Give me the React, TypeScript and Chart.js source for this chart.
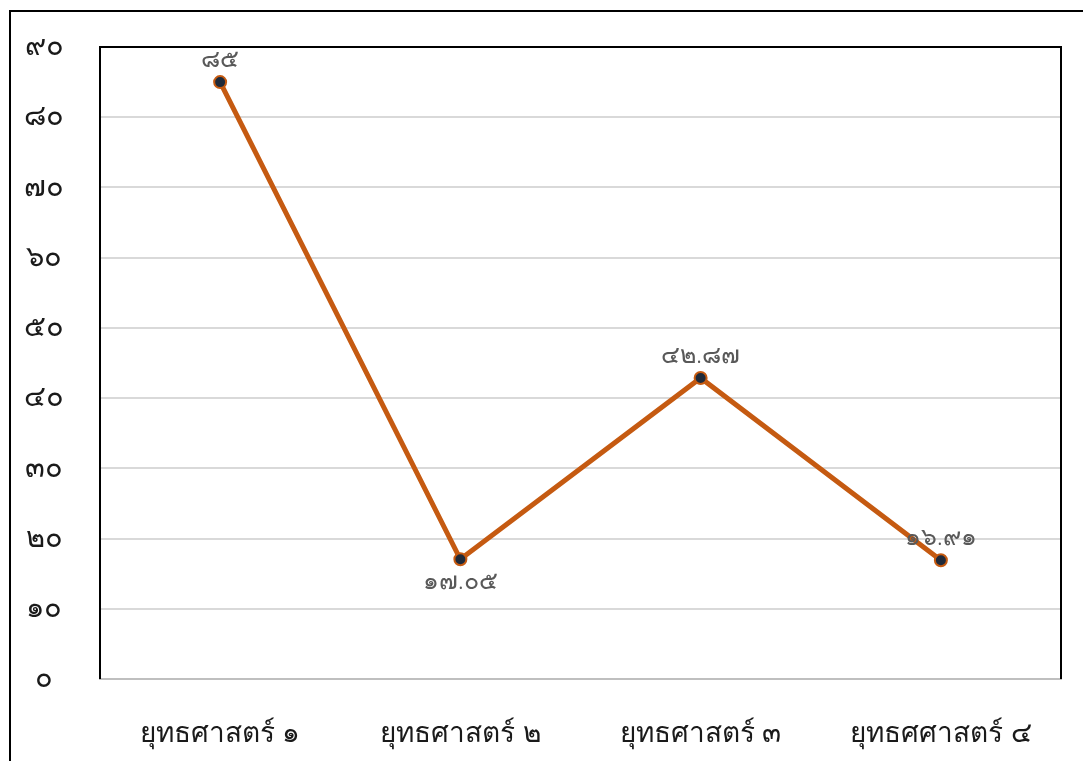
import React, { useEffect, useRef } from "react";
import { Chart, registerables } from "chart.js";

Chart.register(...registerables);

const categories = ["ยุทธศาสตร์ ๑", "ยุทธศาสตร์ ๒", "ยุทธศาสตร์ ๓", "ยุทธศศาสตร์ ๔"];
const values = [85, 17.05, 42.87, 16.91];
const valueLabels = ["๘๕", "๑๗.๐๕", "๔๒.๘๗", "๑๖.๙๑"];
const labelAbove = [true, false, true, true];
const yTickLabels = ["๐", "๑๐", "๒๐", "๓๐", "๔๐", "๕๐", "๖๐", "๗๐", "๘๐", "๙๐"];

const FONT = "'Noto Sans', 'DejaVu Sans', sans-serif";

export default function App() {
  const ref = useRef<HTMLCanvasElement>(null);
  useEffect(() => {
    const canvas = ref.current!;
    const framePlugin = {
      id: "frame",
      beforeDatasetsDraw(chart: any) {
        const { ctx, chartArea } = chart;
        ctx.save();
        ctx.strokeStyle = "#000";
        ctx.lineWidth = 2;
        ctx.beginPath();
        ctx.moveTo(chartArea.left, chartArea.bottom);
        ctx.lineTo(chartArea.left, chartArea.top);
        ctx.lineTo(chartArea.right, chartArea.top);
        ctx.lineTo(chartArea.right, chartArea.bottom);
        ctx.stroke();
        ctx.restore();
      },
      afterDraw(chart: any) {
        const { ctx } = chart;
        ctx.save();
        ctx.strokeStyle = "#000";
        ctx.lineWidth = 2;
        ctx.strokeRect(10, 11, 1200, 1000);
        ctx.restore();
      },
    };
    const labelPlugin = {
      id: "valueLabels",
      afterDatasetsDraw(chart: any) {
        const { ctx } = chart;
        const meta = chart.getDatasetMeta(0);
        ctx.save();
        ctx.font = `300 25px ${FONT}`;
        ctx.fillStyle = "#595959";
        ctx.textAlign = "center";
        ctx.textBaseline = "middle";
        meta.data.forEach((pt: any, i: number) => {
          ctx.fillText(valueLabels[i], pt.x, labelAbove[i] ? pt.y - 22 : pt.y + 23);
        });
        ctx.restore();
      },
    };
    const chart = new Chart(canvas, {
      type: "line",
      data: {
        labels: categories,
        datasets: [
          {
            data: values,
            borderColor: "#C55A11",
            borderWidth: 5,
            pointBackgroundColor: "#1F2A3A",
            pointBorderColor: "#C55A11",
            pointBorderWidth: 2,
            pointRadius: 6,
            tension: 0,
          },
        ],
      },
      options: {
        responsive: false,
        animation: false,
        layout: { padding: { left: 0, top: 47, right: 22, bottom: 0 } },
        plugins: { legend: { display: false }, tooltip: { enabled: false } },
        scales: {
          x: {
            offset: true,
            grid: { display: false, drawTicks: false },
            border: { display: true, color: "#BFBFBF", width: 2 },
            ticks: { padding: 38, color: "#1a1a1a", font: { size: 28, family: FONT, weight: "300" } },
            afterFit: (s: any) => {
              s.height = 82;
              s.paddingLeft = 0;
              s.paddingRight = 0;
            },
          },
          y: {
            min: 0,
            max: 90,
            grid: { color: "#D9D9D9", lineWidth: 2, drawTicks: false },
            border: { display: false },
            ticks: {
              stepSize: 10,
              padding: 36,
              crossAlign: "center",
              color: "#1a1a1a",
              font: { size: 29, family: FONT, weight: "300" },
              callback: (v: any) => yTickLabels[Math.round(Number(v) / 10)],
            },
            afterFit: (s: any) => {
              s.width = 100;
              s.paddingTop = 0;
              s.paddingBottom = 0;
            },
          },
        },
      },
      plugins: [framePlugin, labelPlugin],
    } as any);
    return () => chart.destroy();
  }, []);
  return (
    <div style={{ position: "fixed", left: 0, top: 0, width: 1083, height: 761, background: "#fff" }}>
      <canvas ref={ref} width={1083} height={761} style={{ width: 1083, height: 761, display: "block" }} />
    </div>
  );
}
